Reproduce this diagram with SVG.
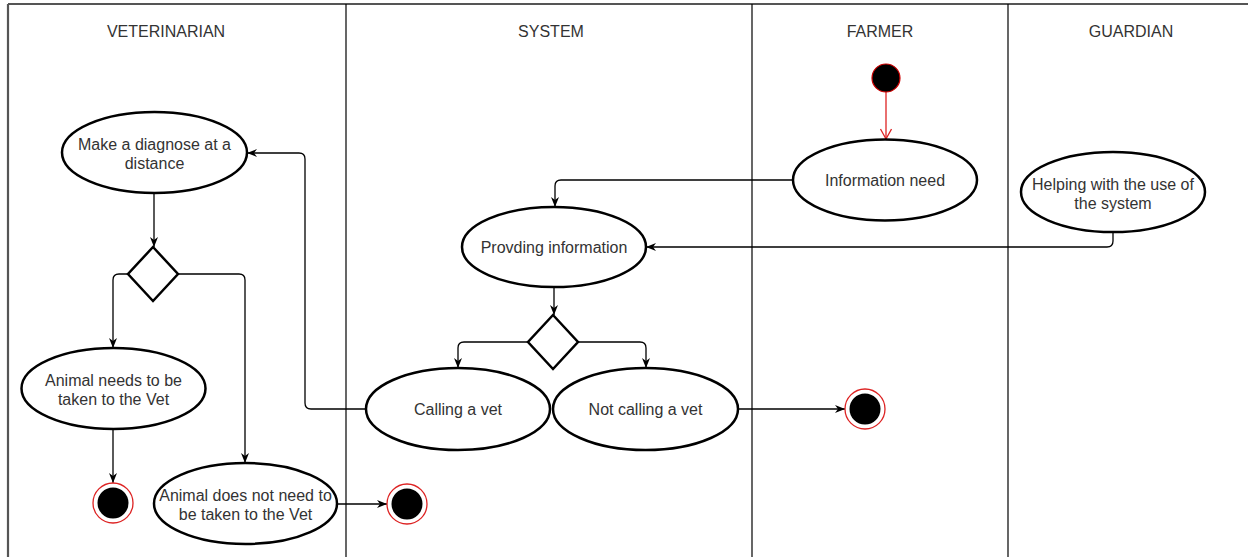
<svg xmlns="http://www.w3.org/2000/svg" width="1248" height="557" viewBox="0 0 1248 557">
  <style>
    .lane { stroke: #000; stroke-width: 1.2; fill: none; }
    .frame { stroke: #555; stroke-width: 2.2; fill: none; }
    .hdr { font-family: "Liberation Sans", Arial, sans-serif; font-size: 16px; fill: #333; text-anchor: middle; }
    .lbl { font-family: "Liberation Sans", Arial, sans-serif; font-size: 16px; fill: #333; text-anchor: middle; }
    .act { fill: #fff; stroke: #000; stroke-width: 2.5; }
    .dec { fill: #fff; stroke: #000; stroke-width: 2.5; }
    .edge { fill: none; stroke: #000; stroke-width: 1.3; marker-end: url(#arrow); }
    .start { fill: #000; stroke: #c00; stroke-width: 1.2; }
    .endring { fill: #fff; stroke: #d22; stroke-width: 1.3; }
    .endcore { fill: #000; }
  </style>
  <defs>
    <marker id="arrow" markerUnits="userSpaceOnUse" markerWidth="12" markerHeight="10" refX="10" refY="4" orient="auto">
      <path d="M0,0 L10,4 L0,8 L3,4 Z" fill="#000"/>
    </marker>
    <marker id="openRed" markerUnits="userSpaceOnUse" markerWidth="14" markerHeight="14" refX="11" refY="6" orient="auto">
      <path d="M1,0.5 L11,6 L1,11.5" fill="none" stroke="#d22" stroke-width="1.3"/>
    </marker>
  </defs>

  <rect width="1248" height="557" fill="#fff"/>

  <!-- swimlanes -->
  <g id="lanes">
    <line class="frame" x1="8" y1="4" x2="1248" y2="4"/>
    <line class="frame" x1="8" y1="4" x2="8" y2="557"/>
    <line class="lane" x1="346" y1="4" x2="346" y2="557"/>
    <line class="lane" x1="752" y1="4" x2="752" y2="557"/>
    <line class="lane" x1="1008" y1="4" x2="1008" y2="557"/>
    <text class="hdr" x="166" y="37">VETERINARIAN</text>
    <text class="hdr" x="551" y="37">SYSTEM</text>
    <text class="hdr" x="880" y="37">FARMER</text>
    <text class="hdr" x="1131" y="37">GUARDIAN</text>
  </g>

  <!-- connectors -->
  <g id="connectors">
    <path class="edge" d="M793,180 H561 Q555,180 555,186 V207"/>
    <path class="edge" d="M1113,232 V241 Q1113,247 1107,247 H646"/>
    <path class="edge" d="M554,287 V315"/>
    <path class="edge" d="M528,342 H464 Q458,342 458,348 V368"/>
    <path class="edge" d="M578,342 H640 Q646,342 646,348 V368"/>
    <path class="edge" d="M738,409 H845"/>
    <path class="edge" d="M366,409 H311 Q305,409 305,403 V159 Q305,153 299,153 H247"/>
    <path class="edge" d="M154,193 V247"/>
    <path class="edge" d="M128,274 H119 Q113,274 113,280 V348"/>
    <path class="edge" d="M178,274 H239 Q245,274 245,280 V463"/>
    <path class="edge" d="M113,429 V483"/>
    <path class="edge" d="M337,504 H387"/>
    <path d="M886,92 V139" fill="none" stroke="#d22" stroke-width="1.3" marker-end="url(#openRed)"/>
  </g>

  <!-- farmer lane -->
  <g id="start">
    <circle class="start" cx="886" cy="78" r="14"/>
  </g>
  <g id="information-need">
    <ellipse class="act" cx="885" cy="180" rx="92" ry="40.5"/>
    <text class="lbl" x="885" y="186">Information need</text>
  </g>

  <!-- guardian lane -->
  <g id="helping">
    <ellipse class="act" cx="1113" cy="192" rx="92" ry="40"/>
    <text class="lbl" x="1113" y="190">Helping with the use of</text>
    <text class="lbl" x="1113" y="209">the system</text>
  </g>

  <!-- system lane -->
  <g id="providing-information">
    <ellipse class="act" cx="554" cy="247" rx="92" ry="40"/>
    <text class="lbl" x="554" y="253">Provding information</text>
  </g>
  <g id="system-decision">
    <polygon class="dec" points="553,315 578,342 553,369 528,342"/>
  </g>
  <g id="calling-vet">
    <ellipse class="act" cx="458" cy="409" rx="92" ry="41"/>
    <text class="lbl" x="458" y="415">Calling a vet</text>
  </g>
  <g id="not-calling-vet">
    <ellipse class="act" cx="645.5" cy="409" rx="92.5" ry="41"/>
    <text class="lbl" x="645.5" y="415">Not calling a vet</text>
  </g>
  <g id="end-system">
    <circle class="endring" cx="865" cy="409" r="20"/>
    <circle class="endcore" cx="865" cy="409" r="15.5"/>
  </g>

  <!-- veterinarian lane -->
  <g id="make-diagnose">
    <ellipse class="act" cx="154.5" cy="152.5" rx="92.5" ry="40.5"/>
    <text class="lbl" x="154.5" y="150">Make a diagnose at a</text>
    <text class="lbl" x="154.5" y="169">distance</text>
  </g>
  <g id="vet-decision">
    <polygon class="dec" points="153,247 178,274 153,301 128,274"/>
  </g>
  <g id="needs-vet">
    <ellipse class="act" cx="113.5" cy="388.5" rx="92" ry="40.5"/>
    <text class="lbl" x="113.5" y="386">Animal needs to be</text>
    <text class="lbl" x="113.5" y="405">taken to the Vet</text>
  </g>
  <g id="no-vet-needed">
    <ellipse class="act" cx="245.5" cy="503.5" rx="91.5" ry="40.5"/>
    <text class="lbl" x="245.5" y="501">Animal does not need to</text>
    <text class="lbl" x="245.5" y="520">be taken to the Vet</text>
  </g>
  <g id="end-needs-vet">
    <circle class="endring" cx="113" cy="503" r="20"/>
    <circle class="endcore" cx="113" cy="503" r="15.5"/>
  </g>
  <g id="end-no-vet">
    <circle class="endring" cx="407" cy="504" r="20"/>
    <circle class="endcore" cx="407" cy="504" r="15.5"/>
  </g>
</svg>
